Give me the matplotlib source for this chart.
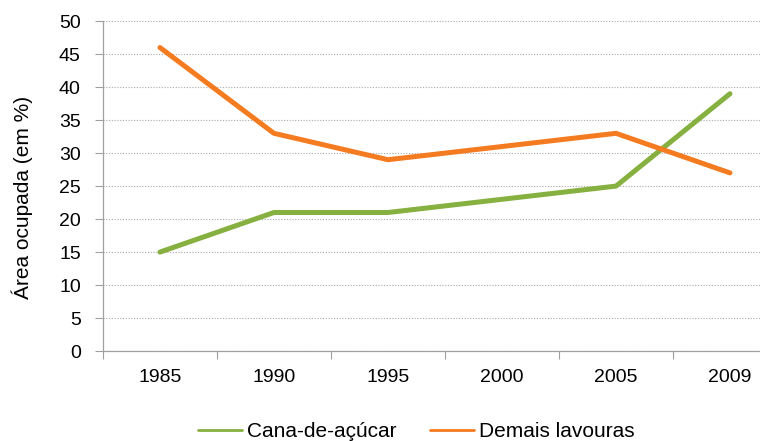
import matplotlib.pyplot as plt
import numpy as np

plt.rcParams['font.family'] = ['Liberation Sans', 'DejaVu Sans']

# data
anos = ['1985', '1990', '1995', '2000', '2005', '2009']
cana = [15, 21, 21, 23, 25, 39]
demais = [46, 33, 29, 31, 33, 27]
yticks = list(range(0, 51, 5))

fig = plt.figure(figsize=(7.6, 4.41), dpi=100)
ax = fig.add_axes([0.1355, 0.204, 0.9, 0.748])

x = np.arange(len(anos))
ax.plot(x, cana, color='#86B03F', lw=3.6, label='Cana-de-açúcar', solid_capstyle='round')
ax.plot(x, demais, color='#F47B20', lw=3.6, label='Demais lavouras', solid_capstyle='round')

ax.set_xlim(-0.5, len(anos) - 0.5)
ax.set_ylim(0, 50)
ax.set_yticks(yticks)
ax.set_xticks(x)
ax.set_xticklabels(anos)
ax.set_xticks(np.arange(-0.5, len(anos), 1), minor=True)
ax.tick_params(axis='x', which='major', length=0, pad=13, labelsize=14)
ax.tick_params(axis='x', which='minor', length=6, color='#A0A0A0', width=0.8)
ax.tick_params(axis='y', length=6, color='#A0A0A0', width=0.8, pad=10, labelsize=14)

ax.yaxis.grid(True, linestyle=(0, (1, 1.5)), color='#A8A8A8', lw=0.8)
ax.set_axisbelow(True)
for s in ['top', 'right']:
    ax.spines[s].set_visible(False)
for s in ['left', 'bottom']:
    ax.spines[s].set_color('#A0A0A0')
    ax.spines[s].set_linewidth(0.9)

ax.set_ylabel('Área ocupada (em %)', fontsize=15, va='center')
ax.yaxis.set_label_coords(-0.118, 0.465)

leg = fig.legend(loc='center', bbox_to_anchor=(0.548, 0.021), ncol=2, frameon=False,
                 fontsize=15, handlelength=2.1, handletextpad=0.25, columnspacing=1.6)
for line in leg.get_lines():
    line.set_linewidth(2)

fig.savefig('out.png', dpi=100)
